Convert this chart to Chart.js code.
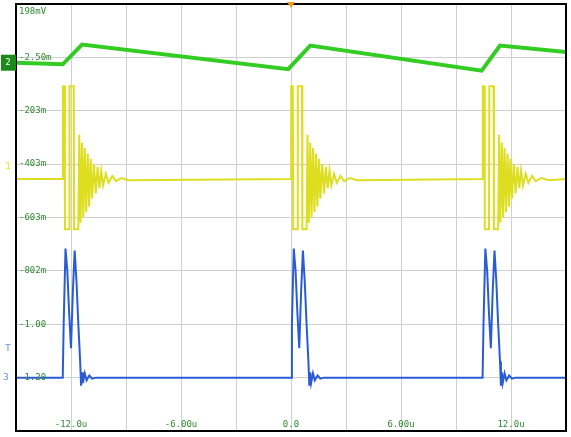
<!DOCTYPE html>
<html>
<head>
<meta charset="utf-8">
<script src="https://cdn.jsdelivr.net/npm/chart.js@4.4.0/dist/chart.umd.min.js"></script>
<style>
  body { margin: 0; background: #fff; }
  #wrap { width: 571px; height: 437px; }
</style>
</head>
<body>
<div id="wrap"><canvas id="scope"></canvas></div>
<script>
// time in us, vertical in screen divisions (0 = bottom, 8 = top)
const burstStarts = [-12.45, 0.0, 10.45];
const yTickLabels = ["-1.20", "-1.00", "-802m", "-603m", "-403m", "-203m", "-2.50m", "198mV"];
const xTickValues = [-12, -6, 0, 6, 12];
const xTickLabels = ["-12.0u", "-6.00u", "0.0", "6.00u", "12.0u"];

const greenPoints = [
    [-15, 6.9], [-12.45, 6.87], [-11.4, 7.24], [-0.15, 6.78], [1.05, 7.22],
    [10.4, 6.75], [11.4, 7.22], [15, 7.1]
];

const yellowBaseline = 4.72;
const yellowBurstT = [0, 0.01, 0.1, 0.12, 0.35, 0.37, 0.6, 0.62, 0.85, 0.9, 0.97, 1.05, 1.12, 1.2, 1.28, 1.36, 1.44,
    1.52, 1.6, 1.7, 1.8, 1.9, 2.0, 2.1, 2.2, 2.35, 2.5, 2.7, 2.9, 3.2, 3.6];
const yellowBurstV = [4.72, 6.46, 6.46, 3.78, 3.78, 6.46, 6.46, 3.78, 3.78, 5.55, 3.9, 5.4, 4.0, 5.3, 4.1, 5.2, 4.2,
    5.1, 4.35, 5.0, 4.45, 4.95, 4.55, 4.88, 4.6, 4.82, 4.65, 4.78, 4.68, 4.74, 4.7];

const blueBaseline = 1.0;
const blueBurstT = [0, 0.05, 0.15, 0.25, 0.35, 0.45, 0.55, 0.65, 0.75, 0.85, 0.95, 1.0, 1.05, 1.1, 1.2, 1.3, 1.45, 1.6, 1.8];
const blueBurstV = [1.0, 2.0, 3.42, 3.0, 2.2, 1.55, 2.6, 3.38, 2.8, 2.0, 1.3, 0.85, 1.1, 0.9, 1.08, 0.95, 1.04, 0.98, 1.0];

function buildBursts(base, ts, vs) {
    const pts = [{ x: -15, y: base }];
    burstStarts.forEach(t0 => {
        ts.forEach((t, i) => pts.push({ x: t0 + t, y: vs[i] }));
    });
    pts.push({ x: 15, y: base });
    return pts;
}

const overlay = {
    id: "overlay",
    afterDraw(chart) {
        const ctx = chart.ctx;
        const xs = chart.scales.x, ys = chart.scales.y;
        const a = chart.chartArea;
        ctx.save();
        ctx.font = "9px 'DejaVu Sans Mono', monospace";
        ctx.fillStyle = "#2e8b2e";
        ctx.textBaseline = "middle";
        yTickLabels.forEach((lab, i) => {
            const y = ys.getPixelForValue(i + 1);
            ctx.fillText(lab, a.left + 3, i === 7 ? y + 8 : y);
        });
        ctx.textAlign = "center";
        xTickValues.forEach((v, i) => ctx.fillText(xTickLabels[i], xs.getPixelForValue(v), a.bottom - 6));
        // border
        ctx.strokeStyle = "#000";
        ctx.lineWidth = 2;
        ctx.strokeRect(a.left, a.top, a.right - a.left, a.bottom - a.top);
        // trigger marker
        const tx = xs.getPixelForValue(0);
        ctx.fillStyle = "#f39c12";
        ctx.beginPath();
        ctx.moveTo(tx - 4, a.top - 2); ctx.lineTo(tx + 4, a.top - 2); ctx.lineTo(tx, a.top + 4);
        ctx.fill();
        // channel markers
        ctx.textAlign = "center";
        ctx.fillStyle = "#1a8a1a";
        const gy = ys.getPixelForValue(6.9);
        ctx.fillRect(a.left - 15, gy - 8, 15, 16);
        ctx.fillStyle = "#fff";
        ctx.fillText("2", a.left - 8, gy);
        ctx.fillStyle = "#e6e600";
        ctx.fillText("1", a.left - 8, ys.getPixelForValue(yellowBaseline) - 12);
        ctx.fillStyle = "#5b8def";
        ctx.fillText("T", a.left - 8, ys.getPixelForValue(1.55));
        ctx.fillText("3", a.left - 10, ys.getPixelForValue(blueBaseline));
        ctx.restore();
    }
};

new Chart(document.getElementById("scope"), {
    type: "line",
    data: {
        datasets: [
            { data: greenPoints.map(p => ({ x: p[0], y: p[1] })), borderColor: "#33cc22", borderWidth: 4 },
            { data: buildBursts(yellowBaseline, yellowBurstT, yellowBurstV), borderColor: "#dede20", borderWidth: 2 },
            { data: buildBursts(blueBaseline, blueBurstT, blueBurstV), borderColor: "#2a5bd7", borderWidth: 2 }
        ]
    },
    options: {
        responsive: true,
        maintainAspectRatio: false,
        animation: false,
        layout: { padding: { left: 16, right: 5, top: 4, bottom: 6 } },
        elements: { point: { radius: 0 }, line: { tension: 0 } },
        plugins: { legend: { display: false }, tooltip: { enabled: false } },
        scales: {
            x: {
                type: "linear", min: -15, max: 15,
                ticks: { display: false, stepSize: 3 },
                grid: { color: "#d0d0d0", drawTicks: false },
                border: { display: false }
            },
            y: {
                min: 0, max: 8,
                ticks: { display: false, stepSize: 1 },
                grid: { color: "#d0d0d0", drawTicks: false },
                border: { display: false }
            }
        }
    },
    plugins: [overlay]
});
</script>
</body>
</html>
